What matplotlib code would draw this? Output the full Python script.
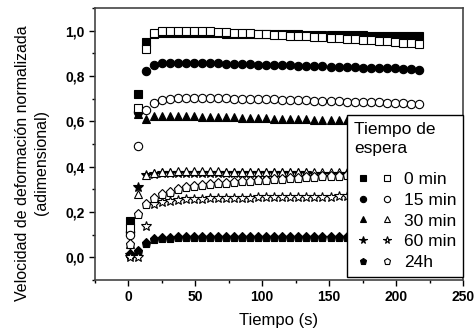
import matplotlib
matplotlib.use("Agg")
import matplotlib.pyplot as plt
from matplotlib.legend_handler import HandlerTuple
from matplotlib.ticker import MultipleLocator

plt.rcParams['font.family'] = ['Liberation Sans', 'DejaVu Sans']

# tiempo (s)
t = [1, 7, 13, 19, 25, 31, 37, 43, 49, 55, 61, 67, 73, 79, 85, 91, 97, 103, 109,
     115, 121, 127, 133, 139, 145, 151, 157, 163, 169, 175, 181, 187, 193, 199,
     205, 211, 217]

# 0 min
sq_f = [0.16, 0.72, 0.95, 0.985, 0.99, 0.99, 0.99, 0.99, 0.989, 0.989, 0.988, 0.988,
        0.987, 0.987, 0.986, 0.986, 0.985, 0.985, 0.984, 0.984, 0.983, 0.983, 0.982,
        0.982, 0.981, 0.981, 0.980, 0.980, 0.979, 0.979, 0.978, 0.978, 0.977, 0.977,
        0.976, 0.976, 0.975]
sq_o = [0.13, 0.66, 0.92, 0.99, 1.0, 1.0, 1.0, 0.999, 0.998, 0.997, 0.996, 0.994,
        0.993, 0.991, 0.99, 0.988, 0.986, 0.984, 0.982, 0.98, 0.978, 0.976, 0.974,
        0.972, 0.97, 0.968, 0.966, 0.964, 0.962, 0.96, 0.958, 0.955, 0.952, 0.949,
        0.946, 0.943, 0.94]
# 15 min
ci_f = [0.11, 0.64, 0.82, 0.85, 0.857, 0.858, 0.858, 0.858, 0.857, 0.857, 0.856, 0.855,
        0.854, 0.853, 0.852, 0.851, 0.850, 0.849, 0.848, 0.847, 0.846, 0.845, 0.844,
        0.843, 0.842, 0.841, 0.840, 0.839, 0.838, 0.837, 0.836, 0.835, 0.834, 0.833,
        0.831, 0.829, 0.827]
ci_o = [0.10, 0.49, 0.65, 0.68, 0.695, 0.70, 0.702, 0.703, 0.703, 0.703, 0.702, 0.702,
        0.701, 0.70, 0.70, 0.699, 0.698, 0.697, 0.696, 0.695, 0.694, 0.693, 0.692,
        0.691, 0.69, 0.689, 0.688, 0.687, 0.686, 0.685, 0.684, 0.683, 0.682, 0.681,
        0.679, 0.677, 0.675]
# 30 min
tr_f = [0.02, 0.63, 0.61, 0.624, 0.625, 0.625, 0.624, 0.623, 0.622, 0.621, 0.620, 0.619,
        0.618, 0.617, 0.616, 0.615, 0.614, 0.613, 0.612, 0.611, 0.610, 0.609, 0.608,
        0.607, 0.606, 0.605, 0.605, 0.604, 0.604, 0.603, 0.603, 0.602, 0.602, 0.601,
        0.601, 0.600, 0.600]
tr_o = [0.06, 0.28, 0.363, 0.373, 0.377, 0.378, 0.379, 0.379, 0.379, 0.379, 0.379, 0.379,
        0.378, 0.378, 0.378, 0.378, 0.378, 0.377, 0.377, 0.377, 0.377, 0.377, 0.376,
        0.376, 0.376, 0.376, 0.376, 0.375, 0.375, 0.375, 0.375, 0.374, 0.374, 0.374,
        0.373, 0.373, 0.373]
# 60 min
st_f = [0.01, 0.31, 0.365, 0.368, 0.370, 0.371, 0.371, 0.371, 0.371, 0.371, 0.371, 0.371,
        0.371, 0.371, 0.371, 0.370, 0.370, 0.370, 0.370, 0.370, 0.370, 0.370, 0.370,
        0.369, 0.369, 0.369, 0.369, 0.369, 0.369, 0.369, 0.369, 0.368, 0.368, 0.368,
        0.368, 0.368, 0.368]
st_o = [0.0, 0.0, 0.137, 0.234, 0.245, 0.25, 0.253, 0.256, 0.258, 0.259, 0.26, 0.261,
        0.262, 0.262, 0.263, 0.263, 0.264, 0.264, 0.265, 0.265, 0.266, 0.266, 0.267,
        0.267, 0.268, 0.268, 0.269, 0.269, 0.27, 0.27, 0.271, 0.271, 0.272, 0.272,
        0.273, 0.273, 0.274]
# 24h
pe_f = [0.015, 0.03, 0.062, 0.08, 0.085, 0.087, 0.088, 0.089, 0.089, 0.09, 0.09, 0.09,
        0.09, 0.09, 0.09, 0.09, 0.09, 0.09, 0.09, 0.09, 0.09, 0.09, 0.09, 0.09, 0.09,
        0.089, 0.089, 0.089, 0.089, 0.089, 0.089, 0.089, 0.088, 0.088, 0.088, 0.088, 0.088]
pe_o = [0.06, 0.19, 0.237, 0.262, 0.28, 0.29, 0.30, 0.308, 0.314, 0.318, 0.322, 0.326,
        0.329, 0.332, 0.335, 0.338, 0.341, 0.343, 0.345, 0.347, 0.349, 0.351, 0.353,
        0.355, 0.357, 0.358, 0.36, 0.361, 0.362, 0.363, 0.364, 0.365, 0.366, 0.367,
        0.368, 0.369, 0.37]

labels = ['0 min', '15 min', '30 min', '60 min', '24h']
markers = ['s', 'o', '^', '*', 'p']
filled = [sq_f, ci_f, tr_f, st_f, pe_f]
hollow = [sq_o, ci_o, tr_o, st_o, pe_o]
sizes = [5.5, 6, 6, 7.5, 6.5]

fig = plt.figure(figsize=(4.74, 3.29), dpi=100)
ax = fig.add_axes([0.2, 0.149, 0.777, 0.827])

hf = []
ho = []
for m, y, s in zip(markers, filled, sizes):
    h, = ax.plot(t, y, ls='none', marker=m, ms=s, mfc='black', mec='black', mew=0.8)
    hf.append(h)
for m, y, s in zip(markers, hollow, sizes):
    h, = ax.plot(t, y, ls='none', marker=m, ms=s, mfc='white', mec='black', mew=0.8)
    ho.append(h)

ax.set_xlim(-25, 250)
ax.set_ylim(-0.1, 1.1)
ax.xaxis.set_major_locator(MultipleLocator(50))
ax.xaxis.set_minor_locator(MultipleLocator(25))
ax.yaxis.set_minor_locator(MultipleLocator(0.1))
ax.tick_params(which='both', direction='out', top=False, right=False)
ax.tick_params(which='major', length=4, width=1)
ax.tick_params(which='minor', length=2.5, width=1)
ax.set_yticks([0, 0.2, 0.4, 0.6, 0.8, 1.0])
ax.set_yticklabels(['0,0', '0,2', '0,4', '0,6', '0,8', '1,0'], fontsize=10, fontweight='bold')
for lab in ax.get_xticklabels():
    lab.set_fontsize(10)
    lab.set_fontweight('bold')
for sp in ax.spines.values():
    sp.set_color('#444444')
    sp.set_linewidth(1.2)

ax.set_xlabel('Tiempo (s)', fontsize=12, labelpad=6)
ax.set_ylabel('Velocidad de deformación normalizada\n(adimensional)', fontsize=11.5,
              linespacing=1.35)
ax.yaxis.set_label_coords(-0.125, 0.43)

leg = ax.legend([(a, b) for a, b in zip(hf, ho)], labels,
                handler_map={tuple: HandlerTuple(ndivide=None, pad=0.4)},
                title='Tiempo de\nespera', title_fontsize=12.5, fontsize=12.5,
                loc='lower right', bbox_to_anchor=(1.0, 0.01), borderaxespad=0,
                fancybox=False, edgecolor='black', framealpha=1,
                markerscale=0.75, handlelength=2.4, handletextpad=0.45,
                labelspacing=0.33, borderpad=0.4)
leg._legend_box.align = 'left'
leg._legend_box.sep = 11
leg.get_title().set_linespacing(1.35)
leg.get_frame().set_linewidth(1.0)

fig.savefig('out.png', dpi=100)
